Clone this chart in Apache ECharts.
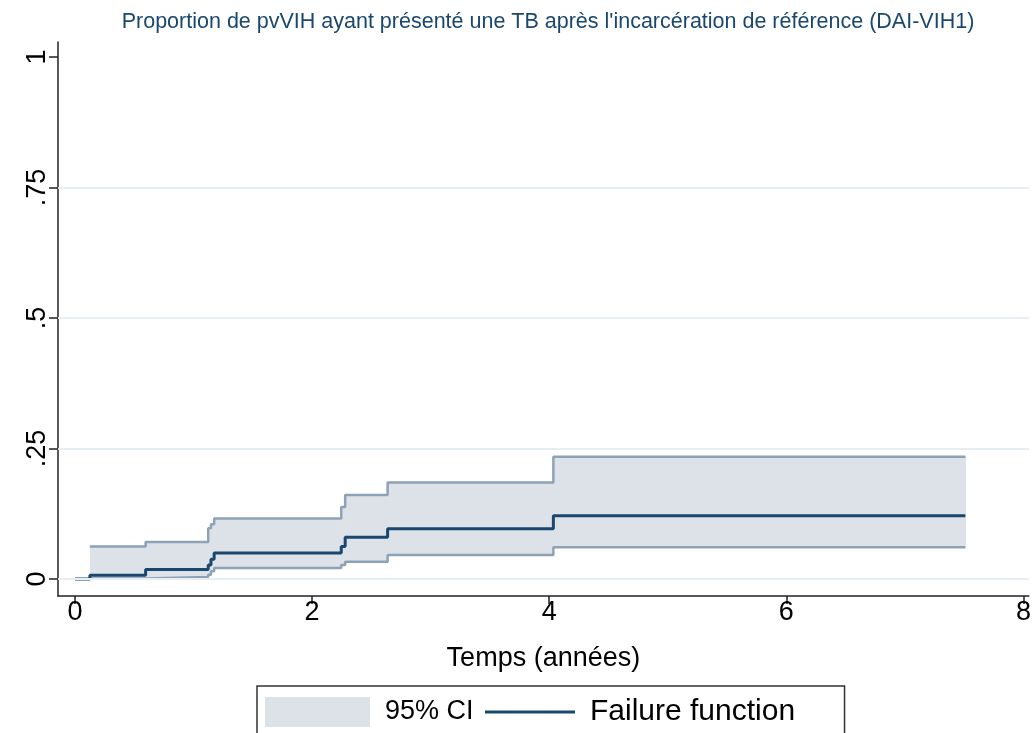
<!DOCTYPE html>
<html><head><meta charset="utf-8">
<script src="https://cdn.jsdelivr.net/npm/echarts@6/dist/echarts.min.js"></script>
<style>html,body{margin:0;padding:0;background:#fff}#c{width:1034px;height:733px}</style>
</head><body><div id="c"></div>
<script>
const titleText = "Proportion de pvVIH ayant présenté une TB après l'incarcération de référence (DAI-VIH1)";
const xAxisTitle = "Temps (années)";
const times   = [0,     0.126, 0.596, 1.124, 1.147, 1.174, 2.246, 2.279, 2.637, 4.035, 7.51];
const failure = [0,     0.007, 0.018, 0.027, 0.038, 0.050, 0.062, 0.080, 0.096, 0.121, 0.121];
const ciLower = [null,  0.001, 0.004, 0.008, 0.015, 0.021, 0.027, 0.033, 0.046, 0.061, 0.061];
const ciUpper = [null,  0.062, 0.071, 0.097, 0.105, 0.116, 0.138, 0.161, 0.185, 0.234, 0.234];
const xTicks = [0, 2, 4, 6, 8];
const yTicks = [0, 0.25, 0.5, 0.75, 1];
const yTickLabels = ['0', '.25', '.5', '.75', '1'];
const gridLineValues = [0, 0.25, 0.5, 0.75];
const legendLabels = ['95% CI', 'Failure function'];

const FONT = "'Liberation Sans', Arial, sans-serif";
const navy = '#1a476f';
const ciLine = '#8ea2b6';
const ciFill = '#dde2e9';

const failData = times.map((t, i) => [t, failure[i]]);
const ciIdx = times.map((t, i) => i).filter(i => ciLower[i] !== null);
const lowData = ciIdx.map(i => [times[i], ciLower[i]]);
const upData = ciIdx.map(i => [times[i], ciUpper[i]]);
// band segments: [start, end, lower, upper]
const bandData = [];
for (let k = 0; k < ciIdx.length - 1; k++) {
  const i = ciIdx[k], j = ciIdx[k + 1];
  bandData.push([times[i], times[j], ciLower[i], ciUpper[i]]);
}

const chart = echarts.init(document.getElementById('c'), null, {renderer: 'canvas'});
chart.setOption({
  animation: false,
  backgroundColor: '#fff',
  title: {
    text: titleText,
    left: 548,
    top: 11,
    padding: 0,
    textAlign: 'center',
    textStyle: {fontFamily: FONT, fontSize: 21.5, fontWeight: 'normal', color: navy}
  },
  grid: {left: 58, right: 0, top: 42, bottom: 137},
  xAxis: {
    type: 'value', min: -0.143, max: 8.045,
    name: xAxisTitle, nameLocation: 'middle', nameGap: 49,
    nameTextStyle: {fontFamily: FONT, fontSize: 27, color: '#000'},
    axisLine: {show: true, onZero: false, lineStyle: {color: '#222', width: 1.5}},
    axisTick: {show: true, length: 8, customValues: xTicks, lineStyle: {color: '#222', width: 1.5}},
    axisLabel: {customValues: xTicks, margin: 3, fontFamily: FONT, fontSize: 27, color: '#000'},
    splitLine: {show: false}
  },
  yAxis: {
    type: 'value', min: -0.0326, max: 1.0287,
    axisLine: {show: true, onZero: false, lineStyle: {color: '#222', width: 1.5}},
    axisTick: {show: true, length: 9, customValues: yTicks, lineStyle: {color: '#222', width: 1.5}},
    axisLabel: {
      customValues: yTicks, rotate: 90, margin: 7,
      fontFamily: FONT, fontSize: 27, color: '#000',
      formatter: v => { const k = yTicks.findIndex(t => Math.abs(t - v) < 1e-9); return k >= 0 ? yTickLabels[k] : ''; }
    },
    splitLine: {show: false}
  },
  legend: [{
    data: [{name: legendLabels[0], icon: 'rect', itemStyle: {color: ciFill, borderWidth: 0}}],
    left: 257, top: 686, orient: 'horizontal',
    itemWidth: 105, itemHeight: 30,
    padding: [11, 371, 11, 8],
    borderColor: '#333', borderWidth: 1.5,
    selectedMode: false,
    textStyle: {fontFamily: FONT, fontSize: 27, color: '#000', padding: [0, 0, 0, 10]}
  }, {
    data: [{name: legendLabels[1], icon: 'rect', itemStyle: {color: navy, borderWidth: 0}}],
    left: 485, top: 686,
    itemWidth: 90, itemHeight: 3,
    padding: [11, 0, 0, 0],
    selectedMode: false,
    textStyle: {fontFamily: FONT, fontSize: 30, lineHeight: 30, color: '#000', padding: [0, 0, 0, 10]}
  }],
  series: [
    {
      name: legendLabels[0], type: 'custom', data: bandData, silent: true, z: 2,
      itemStyle: {color: ciFill},
      encode: {x: [0, 1], y: [2, 3]},
      renderItem: function (params, api) {
        const p0 = api.coord([api.value(0), api.value(3)]);
        const p1 = api.coord([api.value(1), api.value(2)]);
        return {
          type: 'rect',
          shape: {x: p0[0], y: p0[1], width: p1[0] - p0[0] + 0.6, height: p1[1] - p0[1]},
          style: {fill: ciFill}
        };
      }
    },
    {
      name: 'ciLowerLine', type: 'line', step: 'end', data: lowData,
      symbol: 'none', lineStyle: {color: ciLine, width: 2.5}, silent: true, z: 3,
      markLine: {
        silent: true, symbol: 'none', label: {show: false},
        lineStyle: {color: '#e6eef1', width: 2, type: 'solid'},
        data: gridLineValues.map(v => ({yAxis: v}))
      }
    },
    {
      name: 'ciUpperLine', type: 'line', step: 'end', data: upData,
      symbol: 'none', lineStyle: {color: ciLine, width: 2.5}, silent: true, z: 3
    },
    {
      name: legendLabels[1], type: 'line', step: 'end', data: failData,
      symbol: 'none', itemStyle: {color: navy}, lineStyle: {color: navy, width: 3}, silent: true, z: 4
    }
  ]
});
</script>
</body></html>
